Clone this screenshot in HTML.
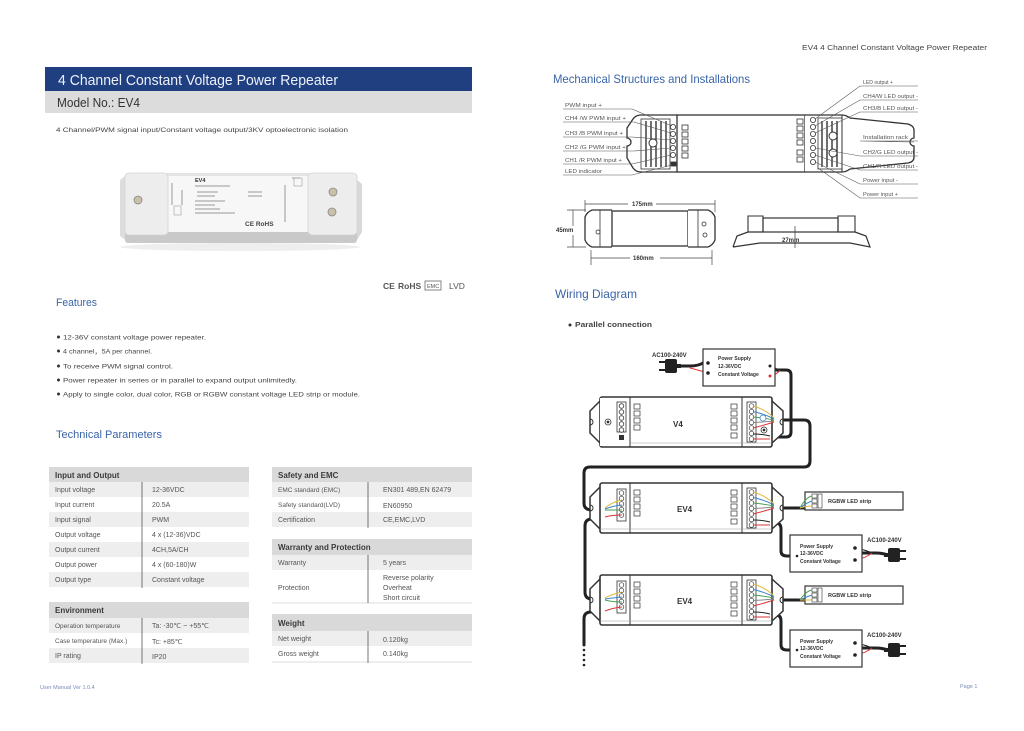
<!DOCTYPE html>
<html><head><meta charset="utf-8"><style>
html,body{margin:0;padding:0;background:#fff;}
svg{display:block;font-family:"Liberation Sans",sans-serif;}
</style></head><body>
<svg width="1024" height="731" viewBox="0 0 1024 731" xmlns="http://www.w3.org/2000/svg">
<defs>
<g id="dev">
  <path d="M0,4 L-10,14 L-10,36 L0,46" fill="#fff" stroke="#333" stroke-width="1.5"/>
  <path d="M-10,22 a3,3 0 0 1 0,6" fill="none" stroke="#333" stroke-width="1"/>
  <path d="M172,4 L183,14 L183,36 L172,46" fill="#fff" stroke="#333" stroke-width="1.5"/>
  <path d="M183,22 a3,3 0 0 0 0,6" fill="none" stroke="#333" stroke-width="1"/>
  <rect x="0" y="0" width="172" height="50" rx="2" fill="#fff" stroke="#333" stroke-width="1.6"/>
  <line x1="30" y1="0" x2="30" y2="50" stroke="#333" stroke-width="1"/>
  <line x1="142" y1="0" x2="142" y2="50" stroke="#333" stroke-width="1"/>
  <line x1="0" y1="46" x2="172" y2="46" stroke="#999" stroke-width="0.6"/>
  <rect x="17" y="6" width="9" height="32" fill="#fff" stroke="#333" stroke-width="0.8"/>
  <g fill="#fff" stroke="#333" stroke-width="0.7">
    <circle cx="21.5" cy="10" r="2.3"/><circle cx="21.5" cy="15.5" r="2.3"/><circle cx="21.5" cy="21" r="2.3"/><circle cx="21.5" cy="26.5" r="2.3"/><circle cx="21.5" cy="32" r="2.3"/>
    <rect x="34" y="7" width="6" height="5"/><rect x="34" y="14" width="6" height="5"/><rect x="34" y="21" width="6" height="5"/><rect x="34" y="28" width="6" height="5"/>
  </g>
  <rect x="147" y="5" width="9" height="40" fill="#fff" stroke="#333" stroke-width="0.8"/>
  <g fill="#fff" stroke="#333" stroke-width="0.7">
    <circle cx="151.5" cy="9" r="2.3"/><circle cx="151.5" cy="14.5" r="2.3"/><circle cx="151.5" cy="20" r="2.3"/><circle cx="151.5" cy="25.5" r="2.3"/><circle cx="151.5" cy="31" r="2.3"/><circle cx="151.5" cy="36.5" r="2.3"/><circle cx="151.5" cy="42" r="2.3"/>
    <rect x="131" y="7" width="6" height="5"/><rect x="131" y="14" width="6" height="5"/><rect x="131" y="21" width="6" height="5"/><rect x="131" y="28" width="6" height="5"/><rect x="131" y="36" width="6" height="5"/>
  </g>
  <g fill="none" stroke-width="1">
    <path d="M153,9 Q165,12 174,21" stroke="#e0b93c"/>
    <path d="M153,14.5 Q165,17 174,22" stroke="#3a86c8"/>
    <path d="M153,20 Q165,21 174,23" stroke="#4a9e50"/>
    <path d="M153,25.5 Q165,25 174,24" stroke="#888"/>
    <path d="M153,31 Q165,28 174,25" stroke="#d33"/>
    <path d="M153,37 Q163,37 170,39" stroke="#222"/>
    <path d="M153,42 Q163,42 170,42" stroke="#d33"/>
  </g>
</g>
<g id="ps">
  <rect x="0" y="0" width="72" height="37" fill="#fff" stroke="#333" stroke-width="1.2"/>
</g>
<g id="plug">
  <rect x="0" y="0" width="12" height="14" rx="2" fill="#222"/>
  <rect x="12" y="2" width="6" height="2" fill="#222"/>
  <rect x="12" y="10" width="6" height="2" fill="#222"/>
  <rect x="-4" y="5" width="4" height="4" fill="#222"/>
</g>
</defs>

<rect width="1024" height="731" fill="#fff"/>

<!-- LEFT PAGE -->
<rect x="45" y="67" width="427" height="24" fill="#1f3f80"/>
<text x="58" y="85" font-size="14.5" fill="#eef1f8" textLength="280" lengthAdjust="spacingAndGlyphs">4 Channel Constant Voltage Power Repeater</text>
<rect x="45" y="91" width="427" height="22" fill="#dcdcdc"/>
<text x="57" y="107" font-size="12.5" fill="#333" textLength="83" lengthAdjust="spacingAndGlyphs">Model No.: EV4</text>
<text x="56" y="132" font-size="6.5" fill="#444" textLength="292" lengthAdjust="spacingAndGlyphs">4 Channel/PWM signal input/Constant voltage output/3KV optoelectronic isolation</text>

<!-- product photo -->
<g>
  <ellipse cx="240" cy="247" rx="120" ry="4" fill="#eee"/>
  <path d="M120,180 L125,176 L125,240 L120,236 Z" fill="#ddd"/>
  <path d="M357,180 L362,184 L362,232 L357,240 Z" fill="#d8d8d8"/>
  <rect x="125" y="173" width="232" height="70" rx="4" fill="#e4e4e4"/>
  <rect x="125" y="228" width="232" height="15" rx="3" fill="#c9c9c9"/>
  <rect x="168" y="176" width="140" height="56" fill="#f7f7f7"/>
  <rect x="125" y="173" width="43" height="62" rx="4" fill="#ededed" stroke="#d4d4d4" stroke-width="0.8"/>
  <rect x="308" y="173" width="49" height="62" rx="4" fill="#ededed" stroke="#d4d4d4" stroke-width="0.8"/>
  <circle cx="138" cy="200" r="4" fill="#c8c0a8" stroke="#888" stroke-width="0.8"/>
  <circle cx="333" cy="192" r="4" fill="#c8c0a8" stroke="#888" stroke-width="0.8"/>
  <circle cx="332" cy="212" r="4" fill="#c8c0a8" stroke="#888" stroke-width="0.8"/>
  <text x="195" y="182" font-size="5.5" font-weight="bold" fill="#333">EV4</text>
  <g stroke="#999" stroke-width="1">
    <line x1="195" y1="186" x2="230" y2="186"/><line x1="197" y1="192" x2="218" y2="192"/><line x1="197" y1="196" x2="215" y2="196"/>
    <line x1="195" y1="201" x2="225" y2="201"/><line x1="195" y1="205" x2="215" y2="205"/><line x1="195" y1="209" x2="220" y2="209"/><line x1="195" y1="213" x2="235" y2="213"/>
    <line x1="248" y1="192" x2="262" y2="192"/><line x1="248" y1="196" x2="262" y2="196"/>
    <line x1="172" y1="183" x2="172" y2="205"/><line x1="182" y1="190" x2="182" y2="205"/>
    <line x1="285" y1="185" x2="285" y2="222"/><line x1="292" y1="178" x2="300" y2="178"/>
  </g>
  <rect x="174" y="206" width="7" height="9" fill="none" stroke="#aaa" stroke-width="0.7"/>
  <rect x="294" y="178" width="8" height="8" fill="none" stroke="#aaa" stroke-width="0.7"/>
  <text x="245" y="226" font-size="6.5" font-weight="bold" fill="#444">CE RoHS</text>
</g>

<text x="383" y="289" font-size="8.5" font-weight="bold" fill="#555">CE</text>
<text x="398" y="289" font-size="8.5" font-weight="bold" fill="#555">RoHS</text>
<rect x="425" y="281" width="16" height="9" fill="none" stroke="#666" stroke-width="0.8"/>
<text x="427" y="288" font-size="5.5" fill="#555">EMC</text>
<text x="449" y="289" font-size="8.5" fill="#555">LVD</text>

<text x="56" y="306" font-size="11" fill="#3a64a8" textLength="41" lengthAdjust="spacingAndGlyphs">Features</text>
<g font-size="6.5" fill="#444">
  <circle cx="58.5" cy="337" r="1.5" fill="#333"/><text x="63" y="339.5" textLength="143" lengthAdjust="spacingAndGlyphs">12-36V constant voltage power repeater.</text>
  <circle cx="58.5" cy="351" r="1.5" fill="#333"/><text x="63" y="353.5" textLength="89" lengthAdjust="spacingAndGlyphs">4 channel，5A per channel.</text>
  <circle cx="58.5" cy="366" r="1.5" fill="#333"/><text x="63" y="368.5" textLength="110" lengthAdjust="spacingAndGlyphs">To receive PWM signal control.</text>
  <circle cx="58.5" cy="380" r="1.5" fill="#333"/><text x="63" y="382.5" textLength="234" lengthAdjust="spacingAndGlyphs">Power repeater in series or in parallel to expand output unlimitedly.</text>
  <circle cx="58.5" cy="394" r="1.5" fill="#333"/><text x="63" y="396.5" textLength="297" lengthAdjust="spacingAndGlyphs">Apply to single color, dual color, RGB or RGBW constant voltage LED strip or module.</text>
</g>
<text x="56" y="438" font-size="11" fill="#3a64a8" textLength="106" lengthAdjust="spacingAndGlyphs">Technical Parameters</text>

<!-- Left tables -->
<g font-size="7" fill="#555">
  <rect x="49" y="467" width="200" height="15" fill="#d9d9d9"/>
  <text x="55" y="478" font-size="8" font-weight="bold" fill="#3a3a3a">Input and Output</text>
  <rect x="49" y="482" width="200" height="15" fill="#eeeeee"/>
  <rect x="49" y="512" width="200" height="15" fill="#eeeeee"/>
  <rect x="49" y="542" width="200" height="15" fill="#eeeeee"/>
  <rect x="49" y="572" width="200" height="15" fill="#eeeeee"/>
  <line x1="142" y1="482" x2="142" y2="588" stroke="#555" stroke-width="0.8"/>
  <text x="55" y="492">Input voltage</text><text x="152" y="492">12-36VDC</text>
  <text x="55" y="507">Input current</text><text x="152" y="507">20.5A</text>
  <text x="55" y="522">Input signal</text><text x="152" y="522">PWM</text>
  <text x="55" y="537">Output voltage</text><text x="152" y="537">4 x (12-36)VDC</text>
  <text x="55" y="552">Output current</text><text x="152" y="552">4CH,5A/CH</text>
  <text x="55" y="567">Output power</text><text x="152" y="567">4 x (60-180)W</text>
  <text x="55" y="582">Output type</text><text x="152" y="582">Constant voltage</text>

  <rect x="49" y="602" width="200" height="16" fill="#d9d9d9"/>
  <text x="55" y="613" font-size="8" font-weight="bold" fill="#3a3a3a">Environment</text>
  <rect x="49" y="618" width="200" height="15" fill="#eeeeee"/>
  <rect x="49" y="648" width="200" height="15" fill="#eeeeee"/>
  <line x1="142" y1="618" x2="142" y2="664" stroke="#555" stroke-width="0.8"/>
  <text x="55" y="628" font-size="6.5">Operation temperature</text><text x="152" y="628">Ta: -30℃ ~ +55℃</text>
  <text x="55" y="643" font-size="6.5">Case temperature (Max.)</text><text x="152" y="644">Tc: +85℃</text>
  <text x="55" y="658">IP rating</text><text x="152" y="659">IP20</text>
</g>

<!-- Right tables -->
<g font-size="7" fill="#555">
  <rect x="272" y="467" width="200" height="15" fill="#d9d9d9"/>
  <text x="278" y="478" font-size="8" font-weight="bold" fill="#3a3a3a">Safety and EMC</text>
  <rect x="272" y="482" width="200" height="15" fill="#eeeeee"/>
  <rect x="272" y="512" width="200" height="15" fill="#eeeeee"/>
  <line x1="368" y1="482" x2="368" y2="528" stroke="#555" stroke-width="0.8"/>
  <text x="278" y="492" font-size="6.5">EMC standard (EMC)</text><text x="383" y="492">EN301 489,EN 62479</text>
  <text x="278" y="507" font-size="6.5">Safety standard(LVD)</text><text x="383" y="508">EN60950</text>
  <text x="278" y="522">Certification</text><text x="383" y="522">CE,EMC,LVD</text>

  <rect x="272" y="539" width="200" height="16" fill="#d9d9d9"/>
  <text x="278" y="550" font-size="8" font-weight="bold" fill="#3a3a3a">Warranty and Protection</text>
  <rect x="272" y="555" width="200" height="15" fill="#eeeeee"/>
  <line x1="272" y1="603" x2="472" y2="603" stroke="#ddd" stroke-width="1"/>
  <line x1="368" y1="555" x2="368" y2="603" stroke="#555" stroke-width="0.8"/>
  <text x="278" y="565">Warranty</text><text x="383" y="565">5 years</text>
  <text x="278" y="590">Protection</text>
  <text x="383" y="580">Reverse polarity</text><text x="383" y="590">Overheat</text><text x="383" y="600">Short circuit</text>

  <rect x="272" y="614" width="200" height="17" fill="#d9d9d9"/>
  <text x="278" y="626" font-size="8" font-weight="bold" fill="#3a3a3a">Weight</text>
  <rect x="272" y="631" width="200" height="15" fill="#eeeeee"/>
  <line x1="272" y1="662" x2="472" y2="662" stroke="#ddd" stroke-width="1"/>
  <line x1="368" y1="631" x2="368" y2="663" stroke="#555" stroke-width="0.8"/>
  <text x="278" y="641">Net weight</text><text x="383" y="642">0.120kg</text>
  <text x="278" y="656">Gross weight</text><text x="383" y="656">0.140kg</text>
</g>

<text x="40" y="689" font-size="5.5" fill="#7a8cb8">User Manual Ver 1.0.4</text>

<!-- RIGHT PAGE -->
<text x="802" y="50" font-size="7" fill="#444" textLength="185" lengthAdjust="spacingAndGlyphs">EV4   4 Channel Constant Voltage Power Repeater</text>
<text x="553" y="83" font-size="12" fill="#3a64a8" textLength="197" lengthAdjust="spacingAndGlyphs">Mechanical Structures and Installations</text>

<!-- mechanical drawing -->
<g stroke="#333" fill="none">
  <path d="M677,115 L641,115 Q636,115 633,119 L627,128 L627,138 A4,4 0 0 1 627,146 L627,158 L633,168 Q636,172 641,172 L677,172" stroke-width="1.3" fill="#fff"/>
  <rect x="677" y="115" width="128" height="57" stroke-width="1.3" fill="#fff"/>
  <path d="M805,115 L842,115 Q846,115 850,118 L908,124 Q914,126 914,130 L914,138 A4,4 0 0 0 914,146 L914,157 Q914,162 908,163 L850,169 Q846,172 842,172 L805,172" stroke-width="1.3" fill="#fff"/>
  <line x1="842" y1="115" x2="842" y2="172" stroke-width="1"/>
  <g stroke-width="1.4">
    <line x1="646" y1="121" x2="646" y2="167"/><line x1="651" y1="121" x2="651" y2="167"/><line x1="656" y1="121" x2="656" y2="167"/><line x1="661" y1="121" x2="661" y2="167"/><line x1="666" y1="121" x2="666" y2="167"/>
    <line x1="822" y1="121" x2="822" y2="167"/><line x1="827" y1="121" x2="827" y2="167"/><line x1="832" y1="121" x2="832" y2="167"/><line x1="837" y1="121" x2="837" y2="167"/>
  </g>
  <rect x="641" y="119" width="29" height="50" stroke-width="0.8"/>
  <rect x="818" y="118" width="24" height="51" stroke-width="0.8"/>
  <circle cx="653" cy="143" r="4" fill="#fff" stroke-width="1"/>
  <circle cx="833" cy="136" r="4" fill="#fff" stroke-width="1"/>
  <circle cx="833" cy="153" r="4" fill="#fff" stroke-width="1"/>
  <g stroke-width="0.8" fill="#fff">
    <circle cx="673" cy="127" r="2.6"/><circle cx="673" cy="134" r="2.6"/><circle cx="673" cy="141" r="2.6"/><circle cx="673" cy="148" r="2.6"/><circle cx="673" cy="155" r="2.6"/>
    <rect x="682" y="125" width="6" height="5"/><rect x="682" y="132" width="6" height="5"/><rect x="682" y="139" width="6" height="5"/><rect x="682" y="146" width="6" height="5"/><rect x="682" y="153" width="6" height="5"/>
    <rect x="671" y="162" width="5" height="4" fill="#333"/>
    <circle cx="813" cy="120" r="2.6"/><circle cx="813" cy="127" r="2.6"/><circle cx="813" cy="134" r="2.6"/><circle cx="813" cy="141" r="2.6"/><circle cx="813" cy="148" r="2.6"/><circle cx="813" cy="155" r="2.6"/><circle cx="813" cy="162" r="2.6"/>
    <rect x="797" y="119" width="6" height="5"/><rect x="797" y="126" width="6" height="5"/><rect x="797" y="133" width="6" height="5"/><rect x="797" y="140" width="6" height="5"/><rect x="797" y="150" width="6" height="5"/><rect x="797" y="157" width="6" height="5"/>
  </g>
  <g stroke-width="0.6" stroke="#555">
    <path d="M563,109 L632,109 L672,126"/>
    <path d="M563,122 L634,122 L671,133"/>
    <path d="M563,137 L632,137 L671,140"/>
    <path d="M563,151 L634,151 L671,148"/>
    <path d="M563,164 L632,164 L671,155"/>
    <path d="M563,175 L632,175 L672,165"/>
    <path d="M918,86 L860,86 L815,119"/>
    <path d="M918,100 L860,100 L815,126"/>
    <path d="M918,112 L860,112 L815,133"/>
    <path d="M918,141 L860,141 L914,142"/>
    <path d="M918,156 L860,156 L815,148"/>
    <path d="M918,170 L860,170 L815,155"/>
    <path d="M918,184 L860,184 L815,162"/>
    <path d="M918,198 L860,198 L818,168"/>
  </g>
</g>
<g font-size="5" fill="#555">
  <text x="565" y="107" textLength="37" lengthAdjust="spacingAndGlyphs">PWM input +</text>
  <text x="565" y="120" textLength="61" lengthAdjust="spacingAndGlyphs">CH4 /W PWM input +</text>
  <text x="565" y="135" textLength="58" lengthAdjust="spacingAndGlyphs">CH3 /B PWM input +</text>
  <text x="565" y="149" textLength="61" lengthAdjust="spacingAndGlyphs">CH2 /G PWM input +</text>
  <text x="565" y="162" textLength="57" lengthAdjust="spacingAndGlyphs">CH1 /R PWM input +</text>
  <text x="565" y="173" textLength="37" lengthAdjust="spacingAndGlyphs">LED indicator</text>
  <text x="863" y="84" textLength="30" lengthAdjust="spacingAndGlyphs">LED output +</text>
  <text x="863" y="98" textLength="55" lengthAdjust="spacingAndGlyphs">CH4/W LED output -</text>
  <text x="863" y="110" textLength="55" lengthAdjust="spacingAndGlyphs">CH3/B LED output -</text>
  <text x="863" y="139" textLength="45" lengthAdjust="spacingAndGlyphs">Installation rack</text>
  <text x="863" y="154" textLength="55" lengthAdjust="spacingAndGlyphs">CH2/G LED output -</text>
  <text x="863" y="168" textLength="55" lengthAdjust="spacingAndGlyphs">CH1/R LED output -</text>
  <text x="863" y="182" textLength="35" lengthAdjust="spacingAndGlyphs">Power input -</text>
  <text x="863" y="196" textLength="35" lengthAdjust="spacingAndGlyphs">Power input +</text>
</g>

<!-- dimension drawings -->
<g stroke="#333" fill="none">
  <path d="M612,210 L592,210 Q587,212 585,217 L585,240 Q587,245 592,247 L612,247" stroke-width="1.3" fill="#fff"/>
  <rect x="612" y="211" width="76" height="35" stroke-width="1.3" fill="#fff"/>
  <path d="M688,210 L708,210 Q713,212 715,217 L715,240 Q713,245 708,247 L688,247" stroke-width="1.3" fill="#fff"/>
  <line x1="600" y1="210" x2="600" y2="247" stroke-width="0.8"/>
  <line x1="698" y1="210" x2="698" y2="247" stroke-width="0.8"/>
  <circle cx="598" cy="232" r="2" stroke-width="0.8"/>
  <circle cx="704" cy="224" r="2" stroke-width="0.8"/>
  <circle cx="705" cy="235" r="2" stroke-width="0.8"/>
  <g stroke-width="0.7" stroke="#444">
    <line x1="585" y1="200" x2="585" y2="212"/><line x1="715" y1="200" x2="715" y2="212"/>
    <line x1="585" y1="204" x2="628" y2="204"/><line x1="656" y1="204" x2="715" y2="204"/>
    <line x1="567" y1="210" x2="586" y2="210"/><line x1="567" y1="247" x2="586" y2="247"/>
    <line x1="573" y1="210" x2="573" y2="226"/><line x1="573" y1="235" x2="573" y2="247"/>
    <line x1="591" y1="250" x2="591" y2="265"/><line x1="712" y1="250" x2="712" y2="265"/>
    <line x1="591" y1="258" x2="630" y2="258"/><line x1="660" y1="258" x2="712" y2="258"/>
  </g>
  <rect x="763" y="218" width="75" height="14" stroke-width="1.2" fill="#fff"/>
  <path d="M733,247 L737,236 L748,232 L763,232 M838,232 L855,232 L866,236 L870,247 L850,243 L760,243 L733,247" stroke-width="1.2"/>
  <path d="M748,232 L748,216 L763,216 L763,232 M838,232 L838,216 L855,216 L855,232" stroke-width="1.1"/>
  <line x1="795" y1="226" x2="795" y2="248" stroke-width="0.7"/>
</g>
<g font-size="6" font-weight="bold" fill="#333">
  <text x="632" y="206">175mm</text>
  <text x="556" y="232">45mm</text>
  <text x="633" y="260">160mm</text>
  <text x="782" y="242">27mm</text>
</g>

<text x="555" y="298" font-size="12" fill="#3a64a8" textLength="82" lengthAdjust="spacingAndGlyphs">Wiring Diagram</text>
<circle cx="570" cy="325" r="1.5" fill="#333"/>
<text x="575" y="327" font-size="7" font-weight="bold" fill="#444" textLength="77" lengthAdjust="spacingAndGlyphs">Parallel connection</text>

<!-- wiring diagram -->
<g fill="none" stroke="#222" stroke-width="3" stroke-linecap="round" stroke-linejoin="round">
  <path d="M774,370 L786,370 Q791,370 791,375 L791,432 Q791,437 786,437 L770,437"/>
  <path d="M772,420 L804,420 Q810,420 810,426 L810,461 Q810,467 804,467 L590,467 Q584,467 584,473 L584,503 Q584,510 592,510 L605,510"/>
  <path d="M605,519 L592,519 Q585,519 585,526 L585,592 Q585,599 592,599 L605,599"/>
  <path d="M605,612 L591,612 Q584,612 584,619 L584,645"/>
  <path d="M772,508 L806,508"/>
  <path d="M770,523 L776,523 Q781,523 781,529 L781,551 Q781,556 787,556 L792,556"/>
  <path d="M772,600 L806,600"/>
  <path d="M770,615 L776,615 Q781,615 781,621 L781,645 Q781,650 787,650 L792,650"/>
  <path d="M676,366 L690,366 Q698,366 703,363"/>
  <path d="M862,553 L876,553 Q882,553 888,555"/>
  <path d="M862,648 L876,648 Q882,648 888,650"/>
</g>
<g fill="#222"><circle cx="584" cy="650" r="1.3"/><circle cx="584" cy="655" r="1.3"/><circle cx="584" cy="660" r="1.3"/><circle cx="584" cy="665" r="1.3"/></g>

<use href="#dev" x="600" y="397"/>
<use href="#dev" x="600" y="483"/>
<use href="#dev" x="600" y="575"/>
<rect x="600" y="398" width="29" height="48" fill="#fff"/>
<g stroke="#333" stroke-width="0.8" fill="#fff">
  <rect x="617" y="402" width="9" height="30"/>
  <circle cx="621.5" cy="406" r="2.3"/><circle cx="621.5" cy="412" r="2.3"/><circle cx="621.5" cy="418" r="2.3"/><circle cx="621.5" cy="424" r="2.3"/><circle cx="621.5" cy="430" r="2.3"/>
  <circle cx="608" cy="422" r="3"/><circle cx="608" cy="422" r="1" fill="#333"/>
  <circle cx="764" cy="430" r="3"/><circle cx="764" cy="430" r="1" fill="#333"/>
  <circle cx="763" cy="418" r="3" stroke="#3a86c8"/>
</g>
<rect x="619" y="435" width="5" height="5" fill="#333"/>
<g fill="none" stroke-width="1">
  <path d="M622,500 Q612,502 605,508" stroke="#e0b93c"/>
  <path d="M622,505 Q612,506 605,509" stroke="#3a86c8"/>
  <path d="M622,510 Q612,510 605,510" stroke="#4a9e50"/>
  <path d="M622,515 Q612,515 605,517" stroke="#d33"/>
  <path d="M622,592 Q612,594 605,598" stroke="#e0b93c"/>
  <path d="M622,597 Q612,598 605,599" stroke="#3a86c8"/>
  <path d="M622,602 Q612,602 605,600" stroke="#4a9e50"/>
  <path d="M622,607 Q612,608 605,611" stroke="#d33"/>
  <path d="M703,363 L708,363" stroke="#222"/>
  <path d="M690,368 Q698,370 708,373" stroke="#d33"/>
  <path d="M770,366 Q778,368 778,372" stroke="#222"/>
  <path d="M770,376 Q778,374 780,370" stroke="#d33"/>
  <path d="M855,548 Q866,550 872,553" stroke="#222"/>
  <path d="M855,560 Q866,558 872,553" stroke="#d33"/>
  <path d="M855,643 Q866,645 872,648" stroke="#222"/>
  <path d="M855,655 Q866,653 872,648" stroke="#d33"/>
  <path d="M790,560 L797,560" stroke="#d33"/>
  <path d="M790,655 L797,655" stroke="#d33"/>
</g>
<g font-weight="bold" fill="#333">
  <text x="673" y="427" font-size="8">V4</text>
  <text x="677" y="512" font-size="8">EV4</text>
  <text x="677" y="604" font-size="8">EV4</text>
</g>

<!-- power supplies -->
<use href="#ps" x="703" y="349"/>
<use href="#ps" x="790" y="535"/>
<use href="#ps" x="790" y="630"/>
<g fill="#222">
  <circle cx="708" cy="363" r="1.8"/><circle cx="708" cy="373" r="1.8"/>
  <circle cx="770" cy="366" r="1.5"/><circle cx="770" cy="376" r="1.5" fill="#d33"/>
  <circle cx="855" cy="548" r="1.8"/><circle cx="855" cy="560" r="1.8"/>
  <circle cx="855" cy="643" r="1.8"/><circle cx="855" cy="655" r="1.8"/>
  <circle cx="797" cy="556" r="1.3"/><circle cx="797" cy="650" r="1.3"/>
</g>
<g font-size="5" font-weight="bold" fill="#333">
  <text x="718" y="360">Power Supply</text><text x="718" y="368">12-36VDC</text><text x="718" y="376">Constant Voltage</text>
  <text x="800" y="548">Power Supply</text><text x="800" y="555">12-36VDC</text><text x="800" y="563">Constant Voltage</text>
  <text x="800" y="643">Power Supply</text><text x="800" y="650">12-36VDC</text><text x="800" y="658">Constant Voltage</text>
  <text x="652" y="357" font-size="6">AC100-240V</text>
  <text x="867" y="542" font-size="6">AC100-240V</text>
  <text x="867" y="637" font-size="6">AC100-240V</text>
</g>
<use href="#plug" x="888" y="548"/>
<use href="#plug" x="888" y="643"/>
<g transform="translate(677,359) scale(-1,1)"><use href="#plug" x="0" y="0"/></g>

<!-- LED strips -->
<g stroke="#333" fill="#fff">
  <rect x="805" y="492" width="98" height="18" stroke-width="1.2"/>
  <rect x="805" y="586" width="98" height="18" stroke-width="1.2"/>
  <g stroke-width="0.6">
    <rect x="812" y="494" width="5" height="4"/><rect x="812" y="499" width="5" height="4"/><rect x="812" y="504" width="5" height="4"/>
    <rect x="818" y="494" width="4" height="14"/>
    <rect x="812" y="588" width="5" height="4"/><rect x="812" y="593" width="5" height="4"/><rect x="812" y="598" width="5" height="4"/>
    <rect x="818" y="588" width="4" height="14"/>
  </g>
</g>
<g fill="none" stroke-width="1">
  <path d="M800,508 Q806,497 812,496" stroke="#4a9e50"/><path d="M800,508 Q806,503 812,501" stroke="#3a86c8"/><path d="M800,508 Q806,506 812,506" stroke="#e0b93c"/>
  <path d="M800,600 Q806,591 812,590" stroke="#4a9e50"/><path d="M800,600 Q806,597 812,595" stroke="#3a86c8"/><path d="M800,600 Q806,600 812,600" stroke="#e0b93c"/>
</g>
<g font-size="5.5" font-weight="bold" fill="#333">
  <text x="828" y="503">RGBW LED strip</text>
  <text x="828" y="597">RGBW LED strip</text>
</g>

<text x="960" y="688" font-size="5.5" fill="#7a8cb8">Page 1</text>
</svg>
</body></html>
